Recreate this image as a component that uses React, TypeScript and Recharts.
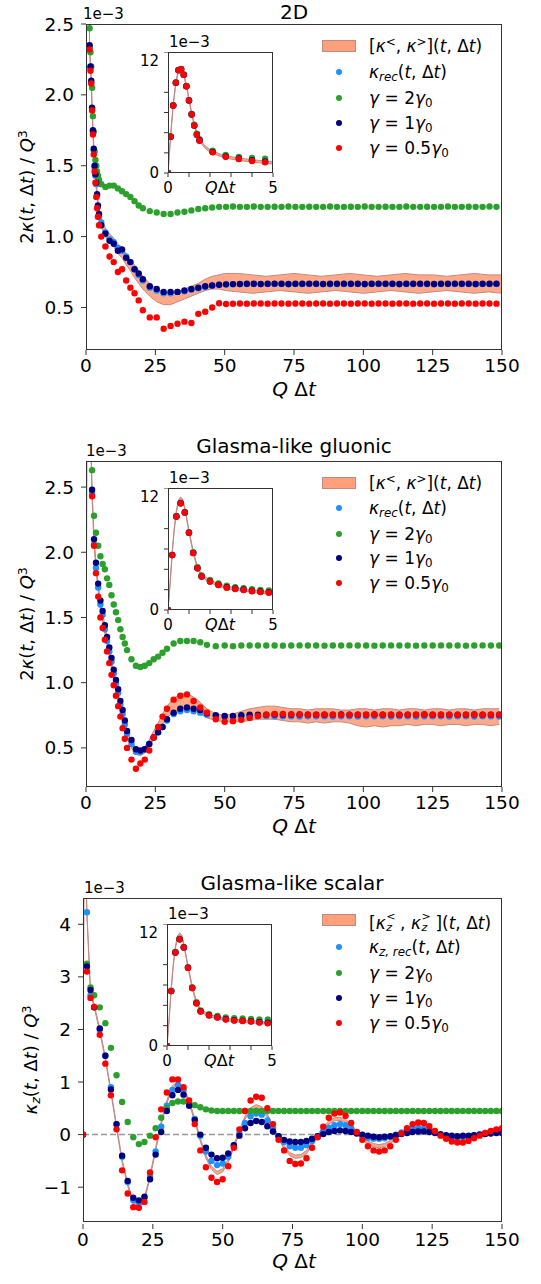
import React from "react";
import { ComposedChart, Scatter, Area, XAxis, YAxis, ReferenceLine } from "recharts";

// ---------- panel 1: 2D ----------
const p1T = [1.3, 1.6, 1.9, 2.2, 2.5, 2.8, 3.1, 3.4, 3.7, 4.0,
  4.3, 4.7, 5.5, 7, 8.5, 10, 11.5, 13, 14.5, 16,
  17.5, 19, 20.5, 23, 25.5, 28, 30.5, 33, 35.5, 38,
  40.5, 43, 45.5, 48, 50.5, 53, 55.5, 58, 60.5, 63,
  65.5, 68, 70.5, 73, 75.5, 78, 80.5, 83, 85.5, 88,
  90.5, 93, 95.5, 98, 100.5, 103, 105.5, 108, 110.5, 113,
  115.5, 118, 120.5, 123, 125.5, 128, 130.5, 133, 135.5, 138,
  140.5, 143, 145.5, 148];
const p1Rec = [2.34, 2.19, 2.09, 1.9, 1.74, 1.61, 1.49, 1.43, 1.37, 1.29,
  1.21, 1.14, 1.1, 1.03, 0.98, 0.96, 0.92, 0.9, 0.86, 0.82,
  0.77, 0.73, 0.69, 0.64, 0.62, 0.6, 0.6, 0.61, 0.615, 0.625,
  0.635, 0.645, 0.655, 0.66, 0.662, 0.664, 0.665, 0.665, 0.666, 0.665,
  0.665, 0.666, 0.665, 0.664, 0.665, 0.665, 0.666, 0.665, 0.665, 0.664,
  0.665, 0.666, 0.665, 0.665, 0.664, 0.665, 0.666, 0.665, 0.665, 0.664,
  0.665, 0.665, 0.666, 0.665, 0.664, 0.665, 0.665, 0.666, 0.665, 0.665,
  0.664, 0.665, 0.665, 0.666];
const p1G2 = [2.47, 2.3, 2.2, 2.05, 1.85, 1.74, 1.6, 1.54, 1.5, 1.46,
  1.43, 1.4, 1.37, 1.35, 1.36, 1.36, 1.34, 1.32, 1.3, 1.28,
  1.25, 1.22, 1.2, 1.18, 1.17, 1.16, 1.16, 1.17, 1.175, 1.185,
  1.195, 1.2, 1.205, 1.21, 1.21, 1.212, 1.21, 1.21, 1.212, 1.21,
  1.21, 1.211, 1.21, 1.212, 1.21, 1.21, 1.211, 1.21, 1.21, 1.212,
  1.21, 1.21, 1.211, 1.21, 1.212, 1.21, 1.21, 1.211, 1.21, 1.21,
  1.212, 1.21, 1.21, 1.211, 1.21, 1.21, 1.212, 1.21, 1.21, 1.211,
  1.21, 1.21, 1.212, 1.21];
const p1G1 = [2.35, 2.2, 2.1, 1.91, 1.75, 1.62, 1.5, 1.44, 1.38, 1.3,
  1.22, 1.16, 1.08, 1.02, 0.97, 0.95, 0.9, 0.91, 0.85, 0.82,
  0.77, 0.74, 0.7, 0.65, 0.63, 0.61, 0.61, 0.61, 0.62, 0.63,
  0.64, 0.65, 0.655, 0.66, 0.663, 0.665, 0.666, 0.667, 0.667, 0.666,
  0.667, 0.668, 0.667, 0.666, 0.667, 0.667, 0.668, 0.667, 0.666, 0.667,
  0.667, 0.668, 0.667, 0.667, 0.666, 0.667, 0.668, 0.667, 0.667, 0.666,
  0.667, 0.667, 0.668, 0.667, 0.666, 0.667, 0.667, 0.668, 0.667, 0.667,
  0.666, 0.667, 0.667, 0.668];
const p1G05 = [2.32, 2.17, 2.08, 1.89, 1.72, 1.58, 1.46, 1.38, 1.28, 1.2,
  1.14, 1.08, 1.0, 0.93, 0.86, 0.82, 0.75, 0.77, 0.69, 0.64,
  0.6, 0.55, 0.48, 0.43, 0.43, 0.35, 0.37, 0.385, 0.4, 0.39,
  0.455, 0.47, 0.5, 0.53, 0.525, 0.527, 0.528, 0.527, 0.528, 0.528,
  0.527, 0.528, 0.528, 0.527, 0.528, 0.528, 0.527, 0.528, 0.528, 0.527,
  0.528, 0.528, 0.527, 0.528, 0.528, 0.527, 0.528, 0.528, 0.527, 0.528,
  0.528, 0.527, 0.528, 0.528, 0.527, 0.528, 0.528, 0.527, 0.528, 0.528,
  0.527, 0.528, 0.528, 0.527];
const p1BandT = [1.0, 1.3, 1.6, 1.9, 2.2, 2.5, 2.8, 3.1, 3.4, 3.7,
  4.0, 4.3, 4.7, 5.5, 7, 8.5, 10, 11.5, 13, 14.5,
  16, 17.5, 19, 20.5, 23, 25.5, 28, 30.5, 33, 35.5,
  38, 40.5, 43, 45.5, 48, 50, 55, 60, 65, 70,
  75, 80, 85, 90, 95, 100, 105, 110, 115, 120,
  125, 130, 135, 140, 145, 150];
const p1BandLo = [2.9, 2.33, 2.17, 2.07, 1.88, 1.72, 1.59, 1.47, 1.41, 1.34,
  1.27, 1.19, 1.13, 1.07, 1.0, 0.96, 0.93, 0.88, 0.85, 0.8,
  0.76, 0.71, 0.67, 0.63, 0.58, 0.54, 0.52, 0.52, 0.54, 0.56,
  0.58, 0.6, 0.62, 0.63, 0.63, 0.62, 0.61, 0.6, 0.61, 0.62,
  0.61, 0.6, 0.61, 0.62, 0.61, 0.6, 0.61, 0.62, 0.61, 0.6,
  0.61, 0.62, 0.61, 0.6, 0.61, 0.6];
const p1BandHi = [3.0, 2.38, 2.23, 2.13, 1.94, 1.78, 1.65, 1.53, 1.47, 1.41,
  1.33, 1.26, 1.2, 1.13, 1.06, 1.02, 0.99, 0.95, 0.92, 0.88,
  0.84, 0.8, 0.76, 0.72, 0.67, 0.63, 0.61, 0.6, 0.61, 0.63,
  0.65, 0.67, 0.7, 0.72, 0.73, 0.74, 0.74, 0.73, 0.72, 0.73,
  0.74, 0.73, 0.72, 0.73, 0.74, 0.73, 0.72, 0.73, 0.74, 0.73,
  0.73, 0.72, 0.73, 0.74, 0.73, 0.73];

// ---------- panel 2: Glasma-like gluonic ----------
const p2T = [2.2, 2.9, 3.6, 4.4, 5.2, 6.0, 6.8, 7.6, 8.4, 9.2,
  10.0, 10.8, 11.6, 12.4, 13.2, 14.0, 14.8, 16.4, 18.0, 19.6,
  21.2, 22.8, 24.4, 26.0, 27.6, 29.2, 31.6, 34.0, 36.4, 38.8,
  41.2, 43.6, 46.8, 50, 53, 56, 59, 62, 65, 68,
  71, 74, 77, 80, 83, 86, 89, 92, 95, 98,
  101, 104, 107, 110, 113, 116, 119, 122, 125, 128,
  131, 134, 137, 140, 143, 146, 149];
const p2Rec = [2.45, 2.06, 1.88, 1.73, 1.6, 1.52, 1.41, 1.32, 1.24, 1.16,
  1.07, 0.99, 0.92, 0.83, 0.76, 0.68, 0.61, 0.53, 0.47, 0.47,
  0.49, 0.53, 0.58, 0.62, 0.66, 0.71, 0.76, 0.78, 0.79, 0.78,
  0.77, 0.755, 0.745, 0.74, 0.74, 0.742, 0.744, 0.745, 0.744, 0.743,
  0.742, 0.742, 0.741, 0.742, 0.743, 0.742, 0.741, 0.742, 0.742, 0.741,
  0.742, 0.743, 0.742, 0.741, 0.742, 0.742, 0.741, 0.742, 0.743, 0.742,
  0.741, 0.742, 0.742, 0.741, 0.742, 0.742, 0.741];
const p2G2 = [2.63, 2.28, 2.15, 2.05, 1.97, 1.91, 1.87, 1.8, 1.75, 1.67,
  1.6, 1.54, 1.48, 1.41, 1.35, 1.3, 1.25, 1.18, 1.13, 1.12,
  1.13, 1.15, 1.18, 1.2, 1.23, 1.26, 1.3, 1.32, 1.32, 1.32,
  1.31, 1.29, 1.28, 1.285, 1.28, 1.285, 1.285, 1.285, 1.285, 1.285,
  1.284, 1.285, 1.286, 1.285, 1.285, 1.284, 1.285, 1.285, 1.286, 1.285,
  1.285, 1.284, 1.285, 1.286, 1.285, 1.285, 1.284, 1.285, 1.285, 1.286,
  1.285, 1.285, 1.284, 1.285, 1.286, 1.285, 1.285];
const p2G1 = [2.48, 2.1, 1.92, 1.76, 1.63, 1.55, 1.44, 1.35, 1.27, 1.19,
  1.1, 1.02, 0.95, 0.86, 0.79, 0.71, 0.63, 0.56, 0.49, 0.48,
  0.49, 0.53, 0.58, 0.62, 0.66, 0.72, 0.77, 0.8, 0.81, 0.8,
  0.79, 0.765, 0.75, 0.745, 0.745, 0.75, 0.755, 0.755, 0.755, 0.756,
  0.755, 0.755, 0.756, 0.755, 0.755, 0.754, 0.755, 0.756, 0.755, 0.755,
  0.755, 0.756, 0.755, 0.755, 0.754, 0.755, 0.755, 0.756, 0.755, 0.755,
  0.755, 0.754, 0.755, 0.756, 0.755, 0.755, 0.755];
const p2G05 = [2.43, 2.05, 1.84, 1.66, 1.5, 1.42, 1.33, 1.24, 1.15, 1.06,
  0.98, 0.9, 0.82, 0.74, 0.65, 0.57, 0.5, 0.41, 0.34, 0.38,
  0.41, 0.48, 0.58, 0.66, 0.74, 0.8, 0.87, 0.9, 0.91, 0.86,
  0.81, 0.77, 0.72, 0.7, 0.705, 0.715, 0.73, 0.745, 0.755, 0.76,
  0.76, 0.758, 0.756, 0.755, 0.755, 0.756, 0.755, 0.755, 0.754, 0.755,
  0.755, 0.756, 0.755, 0.755, 0.754, 0.755, 0.755, 0.756, 0.755, 0.755,
  0.755, 0.754, 0.755, 0.756, 0.755, 0.755, 0.755];
const p2BandT = [0, 0.5, 1.2, 1.8, 2.2, 2.9, 3.6, 4.4, 5.2, 6.0,
  6.8, 7.6, 8.4, 9.2, 10.0, 10.8, 11.6, 12.4, 13.2, 14.0,
  14.8, 16.4, 18.0, 19.6, 21.2, 22.8, 24.4, 26.0, 27.6, 29.2,
  31.6, 34.0, 36.4, 38.8, 41.2, 43.6, 46.8, 50, 53, 56,
  59, 62, 65, 68, 71, 74, 77, 80, 83, 86,
  89, 92, 95, 98, 101, 104, 107, 110, 113, 116,
  119, 122, 125, 128, 131, 134, 137, 140, 143, 146,
  149];
const p2BandLo = [0, 5, 3.5, 2.75, 2.4, 2.06, 1.86, 1.7, 1.56, 1.47,
  1.38, 1.29, 1.2, 1.11, 1.03, 0.95, 0.87, 0.79, 0.71, 0.64,
  0.58, 0.5, 0.45, 0.44, 0.46, 0.5, 0.57, 0.62, 0.68, 0.73,
  0.78, 0.8, 0.81, 0.79, 0.76, 0.73, 0.71, 0.7, 0.7, 0.7,
  0.71, 0.72, 0.72, 0.72, 0.71, 0.7, 0.7, 0.69, 0.7, 0.69,
  0.7, 0.7, 0.69, 0.67, 0.66, 0.67, 0.66, 0.67, 0.67, 0.68,
  0.67, 0.68, 0.68, 0.67, 0.68, 0.68, 0.67, 0.68, 0.68, 0.67,
  0.68];
const p2BandHi = [0, 5, 3.6, 2.85, 2.5, 2.12, 1.92, 1.76, 1.62, 1.53,
  1.44, 1.35, 1.26, 1.17, 1.09, 1.0, 0.92, 0.84, 0.76, 0.69,
  0.63, 0.55, 0.5, 0.49, 0.51, 0.56, 0.63, 0.69, 0.76, 0.82,
  0.88, 0.91, 0.92, 0.89, 0.85, 0.8, 0.76, 0.75, 0.76, 0.78,
  0.8, 0.81, 0.82, 0.82, 0.81, 0.8, 0.8, 0.79, 0.8, 0.8,
  0.8, 0.79, 0.79, 0.8, 0.8, 0.79, 0.8, 0.8, 0.79, 0.8,
  0.8, 0.79, 0.8, 0.8, 0.79, 0.8, 0.8, 0.79, 0.8, 0.8,
  0.8];

// ---------- panel 3: Glasma-like scalar ----------
const p3T = [0, 1.4, 2.7, 4, 6, 8, 10, 12, 14, 16,
  18, 20, 22, 24, 26, 28, 30, 32, 34, 36,
  38, 40, 42, 44, 46, 48, 50, 52, 54, 56,
  58, 60, 62, 64, 66, 68, 70, 72, 74, 76,
  78, 80, 82, 84, 86, 88, 90, 92, 94, 96,
  98, 100, 102, 104, 106, 108, 110, 112, 114, 116,
  118, 120, 122, 124, 126, 128, 130, 132, 134, 136,
  138, 140, 142, 144, 146, 148, 150];
const p3Rec = [0, 4.23, 2.65, 2.42, 2.0, 1.5, 0.9, 0.2, -0.42, -0.9,
  -1.25, -1.3, -1.2, -0.8, -0.32, 0.15, 0.55, 0.85, 0.95, 0.85,
  0.6, 0.3, -0.02, -0.32, -0.5, -0.58, -0.55, -0.42, -0.2, 0.02,
  0.22, 0.35, 0.4, 0.38, 0.27, 0.12, -0.03, -0.14, -0.22, -0.25,
  -0.25, -0.2, -0.12, -0.03, 0.06, 0.13, 0.18, 0.2, 0.18, 0.12,
  0.05, -0.02, -0.06, -0.08, -0.08, -0.07, -0.04, 0, 0.04, 0.08,
  0.11, 0.12, 0.11, 0.08, 0.04, 0, -0.03, -0.05, -0.05, -0.04,
  -0.03, -0.01, 0.01, 0.03, 0.04, 0.05, 0.05];
const p3G2 = [0, 3.25, 2.8, 2.65, 2.42, 2.12, 1.65, 1.13, 0.62, 0.24,
  -0.05, -0.18, -0.14, -0.02, 0.12, 0.32, 0.5, 0.6, 0.63, 0.63,
  0.6, 0.56, 0.52, 0.48, 0.46, 0.45, 0.45, 0.451, 0.45, 0.45,
  0.451, 0.45, 0.45, 0.451, 0.45, 0.45, 0.451, 0.45, 0.45, 0.451,
  0.45, 0.45, 0.451, 0.45, 0.45, 0.451, 0.45, 0.45, 0.451, 0.45,
  0.45, 0.451, 0.45, 0.45, 0.451, 0.45, 0.45, 0.451, 0.45, 0.45,
  0.451, 0.45, 0.45, 0.451, 0.45, 0.45, 0.451, 0.45, 0.45, 0.451,
  0.45, 0.45, 0.451, 0.45, 0.45, 0.451, 0.45];
const p3G1 = [0, 3.2, 2.75, 2.42, 2.02, 1.5, 0.86, 0.2, -0.4, -0.88,
  -1.2, -1.25, -1.18, -0.85, -0.38, 0.05, 0.45, 0.75, 0.85, 0.76,
  0.55, 0.28, 0.0, -0.25, -0.38, -0.45, -0.44, -0.36, -0.2, -0.02,
  0.12, 0.22, 0.26, 0.24, 0.16, 0.06, -0.03, -0.1, -0.13, -0.14,
  -0.14, -0.12, -0.08, -0.03, 0.01, 0.05, 0.07, 0.08, 0.07, 0.05,
  0.02, 0, -0.02, -0.04, -0.05, -0.04, -0.03, -0.01, 0.01, 0.03,
  0.05, 0.06, 0.06, 0.05, 0.03, 0.01, -0.01, -0.02, -0.03, -0.02,
  -0.02, -0.01, 0, 0.01, 0.02, 0.03, 0.03];
const p3G05 = [0, 3.1, 2.6, 2.43, 1.9, 1.35, 0.75, 0.1, -0.68, -1.12,
  -1.38, -1.39, -1.28, -0.72, -0.05, 0.48, 0.8, 1.05, 1.05, 0.9,
  0.65, 0.2, -0.3, -0.62, -0.82, -0.9, -0.85, -0.6, -0.25, 0.1,
  0.45, 0.65, 0.72, 0.7, 0.5, 0.2, -0.1, -0.3, -0.5, -0.56,
  -0.55, -0.45, -0.25, -0.05, 0.15, 0.32, 0.4, 0.42, 0.36, 0.22,
  0.05, -0.1, -0.22, -0.3, -0.32, -0.3, -0.22, -0.1, 0.02, 0.12,
  0.2, 0.23, 0.22, 0.16, 0.07, -0.02, -0.08, -0.13, -0.15, -0.15,
  -0.12, -0.07, -0.02, 0.03, 0.07, 0.1, 0.12];
const p3BandT = [0, 0.5, 1.0, 1.4, 2.7, 4, 6, 8, 10, 12,
  14, 16, 18, 20, 22, 24, 26, 28, 30, 32,
  34, 36, 38, 40, 42, 44, 46, 48, 50, 52,
  54, 56, 58, 60, 62, 64, 66, 68, 70, 72,
  74, 76, 78, 80, 82, 84, 86, 88, 90, 92,
  94, 96, 98, 100, 102, 104, 106, 108, 110, 112,
  114, 116, 118, 120, 122, 124, 126, 128, 130, 132,
  134, 136, 138, 140, 142, 144, 146, 148, 150];
const p3BandLo = [-0.03, 7.97, 5.17, 4.17, 2.67, 2.42, 1.95, 1.42, 0.79, 0.12,
  -0.53, -0.98, -1.33, -1.38, -1.25, -0.83, -0.31, 0.19, 0.59, 0.87,
  0.95, 0.85, 0.59, 0.25, -0.13, -0.45, -0.66, -0.76, -0.71, -0.53,
  -0.25, 0.03, 0.29, 0.45, 0.51, 0.47, 0.33, 0.12, -0.09, -0.27,
  -0.4, -0.45, -0.44, -0.36, -0.21, -0.06, 0.09, 0.2, 0.26, 0.27,
  0.23, 0.13, 0.01, -0.1, -0.18, -0.23, -0.25, -0.23, -0.17, -0.09,
  0, 0.07, 0.12, 0.14, 0.13, 0.09, 0.02, -0.05, -0.1, -0.13,
  -0.14, -0.13, -0.11, -0.07, -0.03, 0.01, 0.04, 0.06, 0.07];
const p3BandHi = [0.03, 8.03, 5.23, 4.23, 2.73, 2.48, 2.01, 1.48, 0.85, 0.18,
  -0.47, -0.92, -1.27, -1.32, -1.19, -0.77, -0.25, 0.25, 0.65, 0.93,
  1.01, 0.91, 0.65, 0.31, -0.07, -0.39, -0.6, -0.7, -0.65, -0.47,
  -0.19, 0.09, 0.35, 0.51, 0.57, 0.53, 0.39, 0.18, -0.03, -0.21,
  -0.34, -0.39, -0.38, -0.3, -0.15, 0, 0.15, 0.26, 0.32, 0.33,
  0.29, 0.19, 0.07, -0.04, -0.12, -0.17, -0.19, -0.17, -0.11, -0.03,
  0.06, 0.13, 0.18, 0.2, 0.19, 0.15, 0.08, 0.01, -0.04, -0.07,
  -0.08, -0.07, -0.05, -0.01, 0.03, 0.07, 0.1, 0.12, 0.13];

// ---------- insets (0 <= QΔt <= 5) ----------
const i1T = [0, 0.125, 0.25, 0.375, 0.5, 0.625, 0.75, 0.875, 1.0, 1.125, 1.25, 1.375, 1.5, 2.125, 2.75, 3.375, 4.0, 4.625];
const i1Rec = [0, 3.62, 6.72, 8.98, 10.22, 10.32, 9.76, 8.62, 7.22, 5.82, 4.72, 3.82, 3.23, 2.08, 1.63, 1.42, 1.23, 1.1];
const i1G2 = [0, 3.6, 6.7, 8.96, 10.2, 10.3, 9.75, 8.6, 7.2, 5.85, 4.8, 3.9, 3.35, 2.2, 1.78, 1.6, 1.5, 1.42];
const i1G1 = [0, 3.6, 6.7, 8.96, 10.2, 10.3, 9.75, 8.6, 7.2, 5.8, 4.7, 3.8, 3.25, 2.1, 1.65, 1.45, 1.27, 1.15];
const i1G05 = [0, 3.6, 6.7, 8.96, 10.2, 10.3, 9.75, 8.6, 7.2, 5.8, 4.7, 3.8, 3.2, 2.05, 1.6, 1.39, 1.19, 1.06];
const i1BandT = [0, 0.125, 0.25, 0.375, 0.5, 0.625, 0.75, 0.875, 1.0, 1.125, 1.25, 1.375, 1.5, 1.75, 2.0, 2.5, 3.0, 3.5, 4.0, 4.5, 5.0];
const i1BandLo = [-0.12, 3.58, 6.68, 8.88, 10.08, 10.28, 9.68, 8.58, 7.18, 5.78, 4.68, 3.78, 3.18, 2.48, 2.08, 1.63, 1.38, 1.21, 1.08, 0.98, 0.9];
const i1BandHi = [0.12, 3.82, 6.92, 9.12, 10.32, 10.52, 9.92, 8.82, 7.42, 6.02, 4.92, 4.02, 3.42, 2.72, 2.32, 1.87, 1.62, 1.45, 1.32, 1.22, 1.14];

const i2T = [0, 0.2, 0.4, 0.6, 0.8, 1.0, 1.2, 1.4, 1.6, 2.0, 2.4, 2.8, 3.2, 3.6, 4.0, 4.4, 4.8];
const i2Rec = [0, 5.45, 9.25, 10.55, 9.65, 7.65, 5.65, 4.15, 3.32, 2.8, 2.48, 2.22, 2.1, 2.0, 1.87, 1.8, 1.73];
const i2G2 = [0, 5.4, 9.2, 10.5, 9.6, 7.6, 5.65, 4.2, 3.4, 2.95, 2.62, 2.38, 2.25, 2.15, 2.05, 1.98, 1.92];
const i2G1 = [0, 5.4, 9.2, 10.5, 9.6, 7.6, 5.6, 4.1, 3.3, 2.82, 2.5, 2.25, 2.12, 2.02, 1.9, 1.83, 1.76];
const i2G05 = [0, 5.4, 9.2, 10.5, 9.6, 7.6, 5.6, 4.1, 3.3, 2.8, 2.46, 2.2, 2.07, 1.97, 1.84, 1.77, 1.7];
const i2BandT = [0, 0.1, 0.2, 0.3, 0.4, 0.5, 0.6, 0.7, 0.8, 0.9, 1.0, 1.2, 1.4, 1.6, 2.0, 2.5, 3.0, 3.5, 4.0, 4.5, 5.0];
const i2BandLo = [-0.12, 2.48, 5.48, 7.88, 9.58, 10.58, 10.88, 10.68, 9.88, 8.78, 7.58, 5.58, 4.08, 3.28, 2.68, 2.28, 2.03, 1.88, 1.73, 1.63, 1.56];
const i2BandHi = [0.12, 2.72, 5.72, 8.12, 9.82, 10.82, 11.12, 10.92, 10.12, 9.02, 7.82, 5.82, 4.32, 3.52, 2.92, 2.52, 2.27, 2.12, 1.97, 1.87, 1.8];

const i3T = [0, 0.2, 0.4, 0.6, 0.8, 1.0, 1.2, 1.4, 1.6, 2.0, 2.4, 2.8, 3.2, 3.6, 4.0, 4.4, 4.8];
const i3Rec = [0, 5.45, 9.25, 10.55, 9.75, 7.75, 5.75, 4.25, 3.42, 3.02, 2.82, 2.62, 2.52, 2.48, 2.42, 2.33, 2.26];
const i3G2 = [0, 5.4, 9.2, 10.5, 9.7, 7.7, 5.75, 4.3, 3.5, 3.12, 2.95, 2.82, 2.74, 2.7, 2.66, 2.62, 2.6];
const i3G1 = [0, 5.4, 9.2, 10.5, 9.7, 7.7, 5.7, 4.2, 3.42, 3.03, 2.84, 2.65, 2.55, 2.5, 2.45, 2.36, 2.3];
const i3G05 = [0, 5.4, 9.2, 10.5, 9.7, 7.7, 5.7, 4.2, 3.4, 3.0, 2.8, 2.6, 2.5, 2.46, 2.4, 2.3, 2.23];
const i3BandT = [0, 0.1, 0.2, 0.3, 0.4, 0.5, 0.6, 0.7, 0.8, 0.9, 1.0, 1.2, 1.4, 1.6, 2.0, 2.5, 3.0, 3.5, 4.0, 4.5, 5.0];
const i3BandLo = [-0.12, 2.48, 5.48, 7.88, 9.58, 10.58, 10.88, 10.68, 9.88, 8.78, 7.68, 5.68, 4.18, 3.38, 2.88, 2.63, 2.43, 2.33, 2.26, 2.18, 2.1];
const i3BandHi = [0.12, 2.72, 5.72, 8.12, 9.82, 10.82, 11.12, 10.92, 10.12, 9.02, 7.92, 5.92, 4.42, 3.62, 3.12, 2.87, 2.67, 2.57, 2.5, 2.42, 2.34];

// ---------- axes ----------
const xTicks = [0, 25, 50, 75, 100, 125, 150];
const yTicksK = [0.5, 1.0, 1.5, 2.0, 2.5];
const yTicksKz = [-1, 0, 1, 2, 3, 4];
const insetXTicks = [0, 1, 2, 3, 4, 5];
const insetYTicks = [0, 2, 4, 6, 8, 10, 12];
const gammaLabels = ["2", "1", "0.5"];

const FONT = '"DejaVu Sans", sans-serif';
const AX = "#333";
const REC = "#1e90ff";
const G2 = "#2ca02c";
const G1 = "#000080";
const G05 = "#ff0000";
const BAND_FILL = "#ffa07a";
const BAND_EDGE = "#c08a84";

const pts = (t: number[], v: number[]) => t.map((x, i) => ({ t: x, v: v[i] }));
const rng = (t: number[], lo: number[], hi: number[]) => t.map((x, i) => ({ t: x, range: [lo[i], hi[i]] }));
const dot = (c: string) => (p: any) => (p.cx == null ? <g /> : <circle cx={p.cx} cy={p.cy} r={3.2} fill={c} />);
const minus = (v: number) => (v < 0 ? "\u2212" + Math.abs(v) : String(v));

type S = { band: any[]; rec: any[]; g2: any[]; g1: any[]; g05: any[] };

function seriesEls(s: S) {
  return [
    <Area key="band" data={s.band} dataKey="range" type="linear" stroke={BAND_EDGE} strokeWidth={1} fill={BAND_FILL} fillOpacity={0.9} dot={false} activeDot={false} isAnimationActive={false} />,
    <Scatter key="rec" data={s.rec} dataKey="v" shape={dot(REC)} isAnimationActive={false} />,
    <Scatter key="g2" data={s.g2} dataKey="v" shape={dot(G2)} isAnimationActive={false} />,
    <Scatter key="g1" data={s.g1} dataKey="v" shape={dot(G1)} isAnimationActive={false} />,
    <Scatter key="g05" data={s.g05} dataKey="v" shape={dot(G05)} isAnimationActive={false} />,
  ];
}

const I = ({ c }: { c: React.ReactNode }) => <span style={{ fontStyle: "italic" }}>{c}</span>;
const Sup = ({ c }: { c: React.ReactNode }) => <span style={{ fontSize: "0.7em", position: "relative", top: "-0.5em" }}>{c}</span>;
const Sub = ({ c }: { c: React.ReactNode }) => <span style={{ fontSize: "0.7em", position: "relative", top: "0.25em" }}>{c}</span>;
// stacked sub/superscript (κ_z^<): offsets are in the small font's own em
const SubSup = ({ sub, sup }: { sub: React.ReactNode; sup: React.ReactNode }) => (
  <span style={{ display: "inline-block", position: "relative", width: "0.85em", height: "1em" }}>
    <span style={{ position: "absolute", left: "0.05em", top: "-0.1em", fontSize: "0.65em", lineHeight: 1 }}>{sup}</span>
    <span style={{ position: "absolute", left: "0.05em", top: "0.95em", fontSize: "0.65em", lineHeight: 1, fontStyle: "italic" }}>{sub}</span>
  </span>
);

function Txt({ x, base, size, center, children }: { x: number; base: number; size: number; center?: boolean; children: React.ReactNode }) {
  return (
    <div style={{ position: "absolute", left: x, top: base - 0.846 * size, fontSize: size, lineHeight: 1, fontFamily: FONT, whiteSpace: "nowrap", color: "#000", transform: center ? "translateX(-50%)" : undefined }}>
      {children}
    </div>
  );
}

function Frame({ l, t, w, h }: { l: number; t: number; w: number; h: number }) {
  return <div style={{ position: "absolute", left: l, top: t, width: w, height: h, border: `1px solid ${AX}`, boxSizing: "border-box", pointerEvents: "none" }} />;
}

const tickStyle = (size: number) => ({ fontSize: size, fill: "#000", fontFamily: FONT });

function Main({ top, yW, domain, yTicks, yFmt, s, zero }: { top: number; yW: number; domain: [number, number]; yTicks: number[]; yFmt: (v: number) => string; s: S; zero?: boolean }) {
  return (
    <div style={{ position: "absolute", left: 0, top }}>
      <ComposedChart width={541} height={400} margin={{ top: 24, right: 39, bottom: 0, left: 0 }}>
        <XAxis type="number" dataKey="t" domain={[0, 150]} ticks={xTicks} allowDataOverflow height={50} tickSize={5} tickMargin={4} stroke={AX} axisLine={false} tick={tickStyle(18.5)} />
        <YAxis type="number" domain={domain} ticks={yTicks} allowDataOverflow width={yW} tickSize={5} tickMargin={7} stroke={AX} axisLine={false} tickFormatter={yFmt} tick={tickStyle(18.5)} />
        {seriesEls(s)}
        {zero ? <ReferenceLine y={0} stroke="#999" strokeDasharray="6 3" strokeWidth={1.5} /> : null}
      </ComposedChart>
    </div>
  );
}

function Inset({ left, top, h, s }: { left: number; top: number; h: number; s: S }) {
  return (
    <>
      <div style={{ position: "absolute", left, top, width: 105, height: h, background: "#fff" }} />
      <div style={{ position: "absolute", left: left - 40, top }}>
        <ComposedChart width={40 + 105 + 14} height={h + 30} margin={{ top: 0, right: 14, bottom: 0, left: 0 }}>
          <XAxis type="number" dataKey="t" domain={[0, 5]} ticks={insetXTicks} allowDataOverflow height={30} tickSize={4} tickMargin={5} stroke={AX} axisLine={false}
            tickFormatter={(v: number) => (v === 0 || v === 5 ? String(v) : "")} tick={tickStyle(15)} />
          <YAxis type="number" domain={[0, 12]} ticks={insetYTicks} allowDataOverflow width={40} tickSize={4} tickMargin={5} stroke={AX} axisLine={false}
            tickFormatter={(v: number) => (v === 0 || v === 12 ? String(v) : "")} tick={tickStyle(15)} />
          {seriesEls(s)}
        </ComposedChart>
      </div>
      <Frame l={left} t={top} w={105} h={h} />
      <Txt x={left + 1} base={top - 4} size={15}>1e{"\u2212"}3</Txt>
      <Txt x={left + 52} base={top + h + 21} size={16} center>
        <I c="Q" />Δ<I c="t" />
      </Txt>
    </>
  );
}

function Legend({ rows, scalar }: { rows: number[]; scalar?: boolean }) {
  const fs = 17;
  const colors = [REC, G2, G1, G05];
  const labels: React.ReactNode[] = [
    scalar ? (
      <span>[<I c="κ" /><SubSup sup="<" sub="z" />, <I c="κ" /><SubSup sup=">" sub="z" />](<I c="t" />, Δ<I c="t" />)</span>
    ) : (
      <span>[<I c="κ" /><Sup c="<" />, <I c="κ" /><Sup c=">" />](<I c="t" />, Δ<I c="t" />)</span>
    ),
    scalar ? (
      <span><I c="κ" /><Sub c={<I c="z, rec" />} />(<I c="t" />, Δ<I c="t" />)</span>
    ) : (
      <span><I c="κ" /><Sub c={<I c="rec" />} />(<I c="t" />, Δ<I c="t" />)</span>
    ),
    ...gammaLabels.map((g) => (
      <span><I c="γ" /> = {g}<I c="γ" /><Sub c="0" /></span>
    )),
  ];
  return (
    <>
      <div style={{ position: "absolute", left: 322, top: rows[0] - 6, width: 34, height: 12, background: BAND_FILL, border: `1px solid ${BAND_EDGE}`, boxSizing: "border-box" }} />
      {colors.map((c, i) => (
        <div key={c} style={{ position: "absolute", left: 339 - 3.2, top: rows[i + 1] - 3.2, width: 6.4, height: 6.4, borderRadius: "50%", background: c }} />
      ))}
      {labels.map((lab, i) => (
        <Txt key={i} x={369} base={rows[i] + 0.36 * fs} size={fs}>{lab}</Txt>
      ))}
    </>
  );
}

function YLabel({ x, y, children }: { x: number; y: number; children: React.ReactNode }) {
  return (
    <div style={{ position: "absolute", left: x, top: y, fontSize: 18, lineHeight: 1, fontFamily: FONT, whiteSpace: "nowrap", transform: "translate(-50%, -50%) rotate(-90deg)" }}>
      {children}
    </div>
  );
}

const XLabel = ({ base }: { base: number }) => (
  <Txt x={294} base={base} size={20} center>
    <I c="Q" /> Δ<I c="t" />
  </Txt>
);

const kLabel = (
  <span>2<I c="κ" />(<I c="t" />, Δ<I c="t" />) / <I c="Q" /><Sup c="3" /></span>
);
const kzLabel = (
  <span><I c="κ" /><Sub c={<I c="z" />} />(<I c="t" />, Δ<I c="t" />) / <I c="Q" /><Sup c="3" /></span>
);

export default function App() {
  const s1: S = { band: rng(p1BandT, p1BandLo, p1BandHi), rec: pts(p1T, p1Rec), g2: pts(p1T, p1G2), g1: pts(p1T, p1G1), g05: pts(p1T, p1G05) };
  const s2: S = { band: rng(p2BandT, p2BandLo, p2BandHi), rec: pts(p2T, p2Rec), g2: pts(p2T, p2G2), g1: pts(p2T, p2G1), g05: pts(p2T, p2G05) };
  const s3: S = { band: rng(p3BandT, p3BandLo, p3BandHi), rec: pts(p3T, p3Rec), g2: pts(p3T, p3G2), g1: pts(p3T, p3G1), g05: pts(p3T, p3G05) };
  const t1: S = { band: rng(i1BandT, i1BandLo, i1BandHi), rec: pts(i1T, i1Rec), g2: pts(i1T, i1G2), g1: pts(i1T, i1G1), g05: pts(i1T, i1G05) };
  const t2: S = { band: rng(i2BandT, i2BandLo, i2BandHi), rec: pts(i2T, i2Rec), g2: pts(i2T, i2G2), g1: pts(i2T, i2G1), g05: pts(i2T, i2G05) };
  const t3: S = { band: rng(i3BandT, i3BandLo, i3BandHi), rec: pts(i3T, i3Rec), g2: pts(i3T, i3G2), g1: pts(i3T, i3G1), g05: pts(i3T, i3G05) };
  const f1 = (v: number) => v.toFixed(1);

  return (
    <div style={{ position: "absolute", left: 0, top: 0, width: 541, height: 1284, background: "#fff", fontFamily: FONT, overflow: "hidden" }}>
      {/* 2D */}
      <Main top={0} yW={86} domain={[0.2, 2.5]} yTicks={yTicksK} yFmt={f1} s={s1} />
      <Frame l={86} t={24} w={416} h={326} />
      <Txt x={294} base={18.5} size={20} center>2D</Txt>
      <Txt x={83} base={20} size={15}>1e{"\u2212"}3</Txt>
      <YLabel x={27} y={187}>{kLabel}</YLabel>
      <XLabel base={396} />
      <Inset left={168} top={52} h={121} s={t1} />
      <Legend rows={[46, 72, 98, 123, 148]} />

      {/* gluonic */}
      <Main top={437} yW={86} domain={[0.2, 2.7]} yTicks={yTicksK} yFmt={f1} s={s2} />
      <Frame l={86} t={461} w={416} h={326} />
      <Txt x={294} base={453} size={20} center>Glasma-like gluonic</Txt>
      <Txt x={86} base={457} size={15}>1e{"\u2212"}3</Txt>
      <YLabel x={27} y={624}>{kLabel}</YLabel>
      <XLabel base={833} />
      <Inset left={168} top={488} h={122} s={t2} />
      <Legend rows={[483, 508, 534, 558, 583]} />

      {/* scalar */}
      <Main top={874} yW={83} domain={[-1.7, 4.5]} yTicks={yTicksKz} yFmt={minus} s={s3} zero />
      <Frame l={83} t={898} w={419} h={324} />
      <Txt x={292} base={890} size={20} center>Glasma-like scalar</Txt>
      <Txt x={84} base={894} size={15}>1e{"\u2212"}3</Txt>
      <YLabel x={31} y={1060}>{kzLabel}</YLabel>
      <XLabel base={1268} />
      <Inset left={167} top={924} h={122} s={t3} />
      <Legend rows={[920, 947, 973, 998, 1023]} scalar />
    </div>
  );
}
